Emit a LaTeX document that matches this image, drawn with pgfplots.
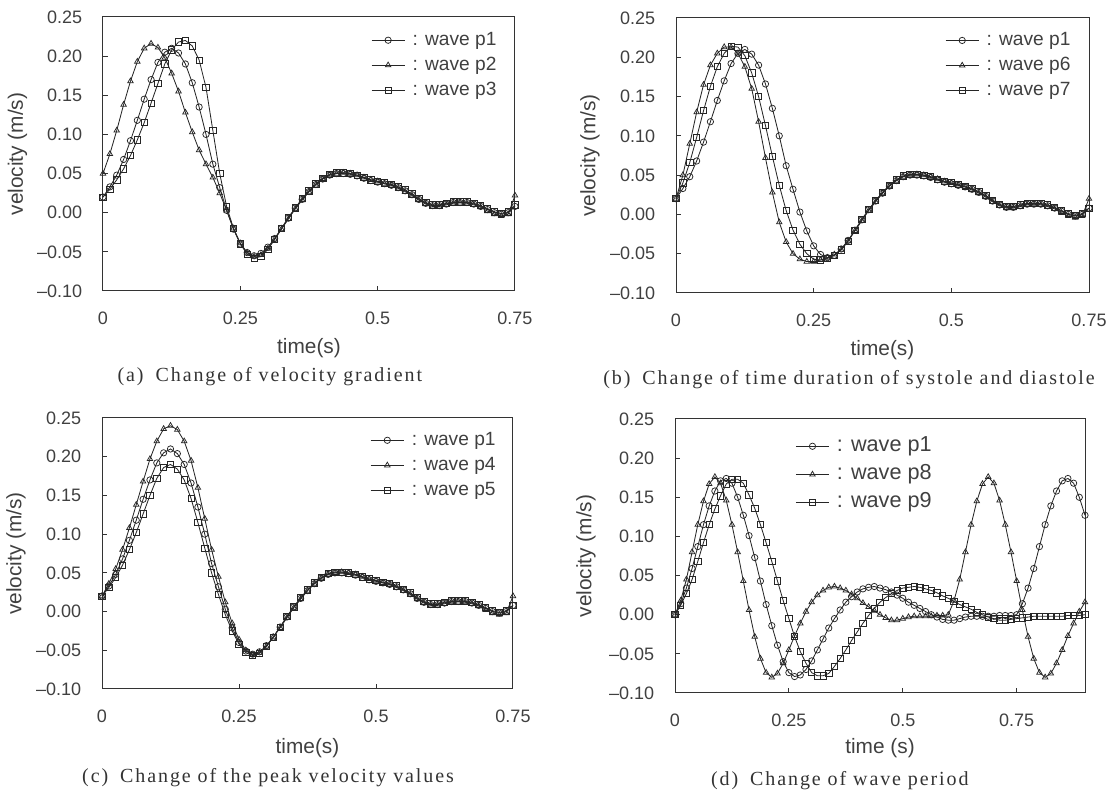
\documentclass[border=0pt]{standalone}
\usepackage{fontspec}
\setmainfont{Liberation Sans}
\newfontfamily\capfont[LetterSpace=9.5]{Liberation Serif}
\usepackage{pgfplots}
\pgfplotsset{compat=1.18}
\usepackage{pgfplotstable}

% panels (a)-(c): t, p1 .. p7
\pgfplotstableread{
t p1 p2 p3 p4 p5 p6 p7
0 0.020 0.050 0.020 0.020 0.020 0.020 0.020
0.0125 0.033 0.075 0.030 0.036 0.031 0.050 0.040
0.025 0.048 0.105 0.042 0.055 0.044 0.090 0.066
0.0375 0.068 0.138 0.056 0.080 0.060 0.130 0.098
0.05 0.092 0.168 0.073 0.108 0.080 0.165 0.132
0.0625 0.118 0.193 0.093 0.138 0.102 0.190 0.163
0.075 0.145 0.210 0.115 0.168 0.126 0.205 0.188
0.0875 0.170 0.216 0.140 0.197 0.150 0.213 0.205
0.1 0.192 0.211 0.165 0.220 0.172 0.213 0.214
0.1125 0.205 0.198 0.190 0.236 0.186 0.205 0.213
0.125 0.210 0.178 0.208 0.240 0.190 0.188 0.202
0.1375 0.204 0.155 0.218 0.235 0.184 0.160 0.180
0.15 0.190 0.128 0.220 0.220 0.170 0.118 0.150
0.1625 0.166 0.103 0.213 0.195 0.146 0.072 0.113
0.175 0.135 0.080 0.195 0.160 0.115 0.028 0.074
0.1875 0.100 0.062 0.160 0.120 0.082 -0.010 0.037
0.2 0.062 0.045 0.105 0.080 0.050 -0.035 0.005
0.2125 0.032 0.025 0.050 0.045 0.022 -0.050 -0.020
0.225 0.003 0.003 0.008 0.012 -0.004 -0.057 -0.038
0.2375 -0.021 -0.020 -0.020 -0.015 -0.025 -0.060 -0.050
0.25 -0.040 -0.039 -0.040 -0.036 -0.042 -0.060 -0.057
0.2625 -0.051 -0.051 -0.053 -0.050 -0.053 -0.058 -0.058
0.275 -0.055 -0.056 -0.058 -0.056 -0.057 -0.055 -0.056
0.2875 -0.052 -0.054 -0.056 -0.053 -0.054 -0.051 -0.052
0.3 -0.044 -0.046 -0.047 -0.045 -0.045 -0.045 -0.045
0.3125 -0.033 -0.034 -0.034 -0.033 -0.033 -0.034 -0.034
0.325 -0.020 -0.021 -0.020 -0.021 -0.020 -0.021 -0.020
0.3375 -0.007 -0.008 -0.006 -0.008 -0.006 -0.008 -0.006
0.35 0.006 0.005 0.006 0.005 0.006 0.005 0.006
0.3625 0.017 0.016 0.018 0.016 0.018 0.016 0.018
0.375 0.027 0.027 0.028 0.027 0.028 0.027 0.028
0.3875 0.036 0.036 0.037 0.036 0.037 0.036 0.037
0.4 0.043 0.043 0.044 0.043 0.044 0.043 0.044
0.4125 0.048 0.048 0.049 0.048 0.049 0.048 0.049
0.425 0.050 0.050 0.051 0.050 0.051 0.050 0.051
0.4375 0.050 0.051 0.051 0.051 0.051 0.051 0.051
0.45 0.049 0.050 0.050 0.050 0.050 0.050 0.050
0.4625 0.047 0.048 0.048 0.048 0.048 0.048 0.048
0.475 0.044 0.045 0.045 0.045 0.045 0.045 0.045
0.4875 0.041 0.042 0.042 0.042 0.042 0.042 0.042
0.5 0.039 0.040 0.040 0.040 0.040 0.040 0.040
0.5125 0.037 0.037 0.038 0.037 0.038 0.037 0.038
0.525 0.035 0.035 0.036 0.035 0.036 0.035 0.036
0.5375 0.032 0.031 0.033 0.031 0.033 0.031 0.033
0.55 0.028 0.027 0.029 0.027 0.029 0.027 0.029
0.5625 0.023 0.022 0.024 0.022 0.024 0.022 0.024
0.575 0.017 0.016 0.018 0.016 0.018 0.016 0.018
0.5875 0.012 0.011 0.013 0.011 0.013 0.011 0.013
0.6 0.009 0.008 0.010 0.008 0.010 0.008 0.010
0.6125 0.009 0.008 0.010 0.008 0.010 0.008 0.010
0.625 0.011 0.010 0.012 0.010 0.012 0.010 0.012
0.6375 0.013 0.012 0.014 0.012 0.014 0.012 0.014
0.65 0.013 0.013 0.014 0.013 0.014 0.013 0.014
0.6625 0.013 0.012 0.014 0.012 0.014 0.012 0.014
0.675 0.011 0.010 0.012 0.010 0.012 0.010 0.012
0.6875 0.008 0.007 0.009 0.007 0.009 0.007 0.009
0.7 0.004 0.002 0.005 0.002 0.005 0.002 0.005
0.7125 0.000 -0.002 0.001 -0.002 0.001 -0.002 0.001
0.725 -0.002 -0.004 -0.001 -0.004 -0.001 -0.004 -0.001
0.7375 0.000 -0.002 0.001 -0.002 0.001 -0.002 0.001
0.75 0.008 0.022 0.010 0.020 0.008 0.020 0.008
}\tabABC

% panel (d): t, p1, p8, p9
\pgfplotstableread{
t p1 p8 p9
0 0.000 0.000 0.000
0.0125 0.014 0.018 0.012
0.025 0.034 0.045 0.027
0.0375 0.059 0.080 0.045
0.05 0.087 0.115 0.068
0.0625 0.115 0.145 0.092
0.075 0.139 0.167 0.115
0.0875 0.158 0.176 0.135
0.1 0.171 0.168 0.152
0.1125 0.174 0.146 0.167
0.125 0.168 0.115 0.173
0.1375 0.150 0.080 0.173
0.15 0.127 0.043 0.168
0.1625 0.101 0.006 0.153
0.175 0.073 -0.028 0.136
0.1875 0.043 -0.056 0.115
0.2 0.013 -0.074 0.092
0.2125 -0.014 -0.080 0.068
0.225 -0.039 -0.075 0.043
0.2375 -0.060 -0.062 0.018
0.25 -0.074 -0.045 -0.005
0.2625 -0.079 -0.027 -0.028
0.275 -0.077 -0.011 -0.047
0.2875 -0.070 0.004 -0.062
0.3 -0.059 0.016 -0.074
0.3125 -0.045 0.025 -0.078
0.325 -0.031 0.031 -0.078
0.3375 -0.017 0.035 -0.075
0.35 -0.005 0.036 -0.066
0.3625 0.006 0.034 -0.056
0.375 0.016 0.031 -0.045
0.3875 0.023 0.026 -0.033
0.4 0.029 0.021 -0.022
0.4125 0.033 0.015 -0.011
0.425 0.035 0.010 -0.001
0.4375 0.036 0.005 0.008
0.45 0.034 0.000 0.016
0.4625 0.032 -0.004 0.022
0.475 0.029 -0.007 0.027
0.4875 0.025 -0.007 0.031
0.5 0.021 -0.005 0.034
0.5125 0.016 -0.003 0.035
0.525 0.012 -0.002 0.036
0.5375 0.008 -0.002 0.035
0.55 0.004 -0.002 0.033
0.5625 0.000 -0.002 0.031
0.575 -0.003 -0.001 0.028
0.5875 -0.006 -0.001 0.024
0.6 -0.007 0.000 0.021
0.6125 -0.007 0.018 0.017
0.625 -0.005 0.045 0.013
0.6375 -0.003 0.080 0.010
0.65 -0.002 0.115 0.007
0.6625 -0.002 0.145 0.003
0.675 -0.002 0.167 0.000
0.6875 -0.002 0.176 -0.003
0.7 -0.002 0.168 -0.005
0.7125 -0.001 0.146 -0.007
0.725 -0.001 0.115 -0.007
0.7375 -0.001 0.080 -0.006
0.75 0.000 0.043 -0.005
0.7625 0.014 0.006 -0.004
0.775 0.034 -0.028 -0.003
0.7875 0.059 -0.056 -0.002
0.8 0.087 -0.074 -0.002
0.8125 0.115 -0.080 -0.002
0.825 0.139 -0.075 -0.002
0.8375 0.158 -0.062 -0.002
0.85 0.171 -0.045 -0.002
0.8625 0.174 -0.027 -0.001
0.875 0.168 -0.011 -0.001
0.8875 0.150 0.004 -0.001
0.9 0.127 0.016 0.000
}\tabD

\pgfplotsset{
  wave/.style={
    scale only axis, clip=false,
    anchor=south west,
    xmin=0, xmax=0.75, ymin=-0.10, ymax=0.25,
    xtick={0,0.25,0.5,0.75}, xticklabels={0,0.25,0.5,0.75},
    ytick={-0.1,-0.05,0,0.05,0.1,0.15,0.2,0.25},
    yticklabels={\textendash0.10,\textendash0.05,0.00,0.05,0.10,0.15,0.20,0.25},
    tick align=inside, tick pos=left, major tick length=3pt,
    axis line style={black!80, line width=0.6pt},
    every tick/.style={black!80, line width=0.6pt},
    tick label style={font=\fontsize{10.8}{12}\selectfont, text=black!75},
    yticklabel style={xshift=-9pt},
    xticklabel style={yshift=-9pt},
    label style={font=\fontsize{12.5}{14}\selectfont, text=black!75},
    ylabel={velocity (m/s)},
    legend style={draw=none, fill=none, font=\fontsize{11.5}{13}\selectfont,
      text=black!75, anchor=north west, inner sep=0pt, row sep=0pt,
      nodes={inner ysep=2.5pt, text height=8pt, text depth=2pt}},
    legend cell align=left,
    legend image code/.code={\draw[mark repeat=2, mark phase=2, ##1]
      plot coordinates {(0cm,0cm) (0.35cm,0cm) (0.7cm,0cm)};},
    every axis plot/.append style={black!85, line width=0.5pt, mark size=1.9pt,
      mark options={solid, line width=0.45pt}},
  },
}
\tikzset{capnode/.style={font=\capfont\fontsize{12}{14}\selectfont, text=black!80}}
\newcommand\wv[1]{\hspace{2.5pt}: wave #1}

\begin{document}
\begin{tikzpicture}
\useasboundingbox (0,0) rectangle (667.2pt,475.2pt);

% (a)
\begin{axis}[wave, at={(61.8pt,300.6pt)}, width=247.2pt, height=164.4pt,
  xlabel={time(s)},
  xlabel style={at={(axis description cs:0.5,-0.208)}, anchor=center},
  ylabel style={at={(axis description cs:-0.2075,0.5)}, anchor=center},
  legend style={at={(0.65,0.962)}}]
\addplot[mark=o] table[x=t, y=p1] {\tabABC};
\addplot[mark=triangle] table[x=t, y=p2] {\tabABC};
\addplot[mark=square] table[x=t, y=p3] {\tabABC};
\legend{\wv{p1}, \wv{p2}, \wv{p3}}
\node[capnode] at (axis description cs:0.405,-0.314) {(a)\hspace{0.6em}Change of velocity gradient};
\end{axis}

% (b)
\begin{axis}[wave, at={(405.6pt,299.4pt)}, width=247.8pt, height=165pt,
  xlabel={time(s)},
  xlabel style={at={(axis description cs:0.5,-0.207)}, anchor=center},
  ylabel style={at={(axis description cs:-0.208,0.5)}, anchor=center},
  legend style={at={(0.651,0.965)}}]
\addplot[mark=o] table[x=t, y=p1] {\tabABC};
\addplot[mark=triangle] table[x=t, y=p6] {\tabABC};
\addplot[mark=square] table[x=t, y=p7] {\tabABC};
\legend{\wv{p1}, \wv{p6}, \wv{p7}}
\node[capnode] at (axis description cs:0.419,-0.316) {(b)\hspace{0.6em}Change of time duration of systole and diastole};
\end{axis}

% (c)
\begin{axis}[wave, at={(61.2pt,61.8pt)}, width=246.6pt, height=162.6pt,
  xlabel={time(s)},
  xlabel style={at={(axis description cs:0.5,-0.218)}, anchor=center},
  ylabel style={at={(axis description cs:-0.209,0.5)}, anchor=center},
  legend style={at={(0.652,0.965)}}]
\addplot[mark=o] table[x=t, y=p1] {\tabABC};
\addplot[mark=triangle] table[x=t, y=p4] {\tabABC};
\addplot[mark=square] table[x=t, y=p5] {\tabABC};
\legend{\wv{p1}, \wv{p4}, \wv{p5}}
\node[capnode] at (axis description cs:0.404,-0.328) {(c)\hspace{0.6em}Change of the peak velocity values};
\end{axis}

% (d)
\begin{axis}[wave, at={(405pt,59.4pt)}, width=246pt, height=164.4pt,
  xmax=0.9,
  xlabel={time (s)},
  xlabel style={at={(axis description cs:0.5,-0.2)}, anchor=center},
  ylabel style={at={(axis description cs:-0.217,0.5)}, anchor=center},
  legend style={at={(0.293,0.953)}, font=\fontsize{13}{15}\selectfont,
    nodes={inner ysep=3pt, text height=8.5pt, text depth=2.4pt}}]
\addplot[mark=o] table[x=t, y=p1] {\tabD};
\addplot[mark=triangle] table[x=t, y=p8] {\tabD};
\addplot[mark=square] table[x=t, y=p9] {\tabD};
\legend{\wv{p1}, \wv{p8}, \wv{p9}}
\node[capnode] at (axis description cs:0.402,-0.318) {(d)\hspace{0.6em}Change of wave period};
\end{axis}
\end{tikzpicture}
\end{document}
